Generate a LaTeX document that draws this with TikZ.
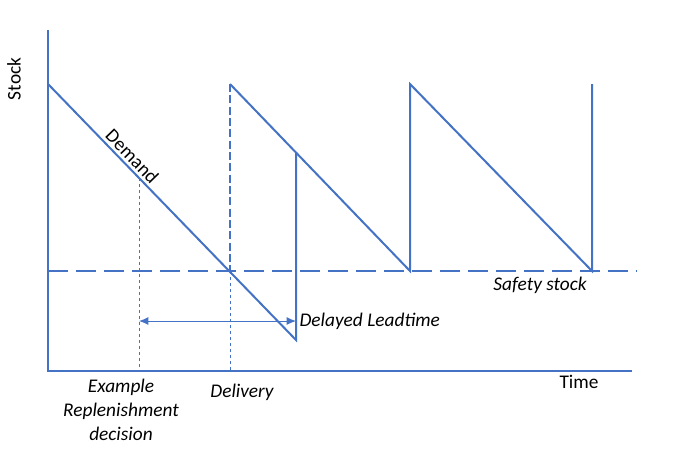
\documentclass[tikz,border=0pt]{standalone}
\usepackage{fontspec}
\setmainfont{Carlito}
\usetikzlibrary{arrows.meta}
\definecolor{chartblue}{HTML}{4472C4}
\tikzset{
  stockline/.style={draw=chartblue,line width=1.5pt},
  guideline/.style={draw=chartblue,line width=0.75pt,dash pattern=on 2.5pt off 2pt},
  orderline/.style={draw=chartblue,line width=1.5pt,dash pattern=on 6pt off 2.5pt},
  safetyline/.style={draw=chartblue,line width=1.5pt,dash pattern=on 15pt off 6pt},
  leadarrow/.style={draw=chartblue,line width=0.75pt,{Latex[length=7pt,width=6pt]}-{Latex[length=7pt,width=6pt]}},
  lbl/.style={font=\fontsize{14.5}{18}\selectfont,inner sep=1pt},
  ilbl/.style={lbl,font=\fontsize{14.5}{18}\selectfont\itshape,align=center}
}
\begin{document}
\begin{tikzpicture}[x=0.75pt,y=-0.75pt,>=Latex]
\useasboundingbox (0,0) rectangle (684,461);
% axes
\coordinate (o) at (48,371);
\coordinate (ytop) at (48,30);
\coordinate (xend) at (632,371);
\draw[stockline] (ytop) -- (o) -- (xend);
% sawtooth points
\coordinate (s0) at (48,84);
\coordinate (low) at (296,340);
\coordinate (d1) at (230,271);
\coordinate (p1) at (230,84);
\coordinate (late) at (296,152);
\coordinate (b2) at (410,271);
\coordinate (p2) at (410,84);
\coordinate (b3) at (592,271);
\coordinate (p3) at (592,84);
\coordinate (dec) at (139,178);
\coordinate (decx) at (139,371);
\coordinate (d1x) at (230,371);
\coordinate (ssl) at (48,271);
\coordinate (ssr) at (637,271);
\coordinate (al) at (139,321);
\coordinate (ar) at (296,321);
% safety stock
\draw[safetyline] (ssl) -- (ssr);
% demand lines
\draw[stockline] (s0) -- node[lbl,sloped,above=1pt,pos=0.31] (demand) {Demand} (low) -- (ar) -- (late);
\draw[orderline] (p1) -- (d1);
\draw[stockline] (p1) -- (b2) -- (p2) -- (b3) -- (p3);
% guides
\draw[guideline] (dec) -- (decx);
\draw[guideline] (d1) -- (d1x);
\draw[leadarrow] (al) -- (ar);
% labels
\node[lbl,rotate=90] (stock) at (14,79) {Stock};
\node[lbl] (time) at (579,382) {Time};
\node[ilbl] (safety) at (540,285) {Safety stock};
\node[ilbl,anchor=west] (delay) at (298,321) {Delayed Leadtime};
\node[ilbl] (delivery) at (242,392) {Delivery};
\node[ilbl,anchor=north] (decision) at (121,377) {Example\\Replenishment\\decision};
\end{tikzpicture}
\end{document}
